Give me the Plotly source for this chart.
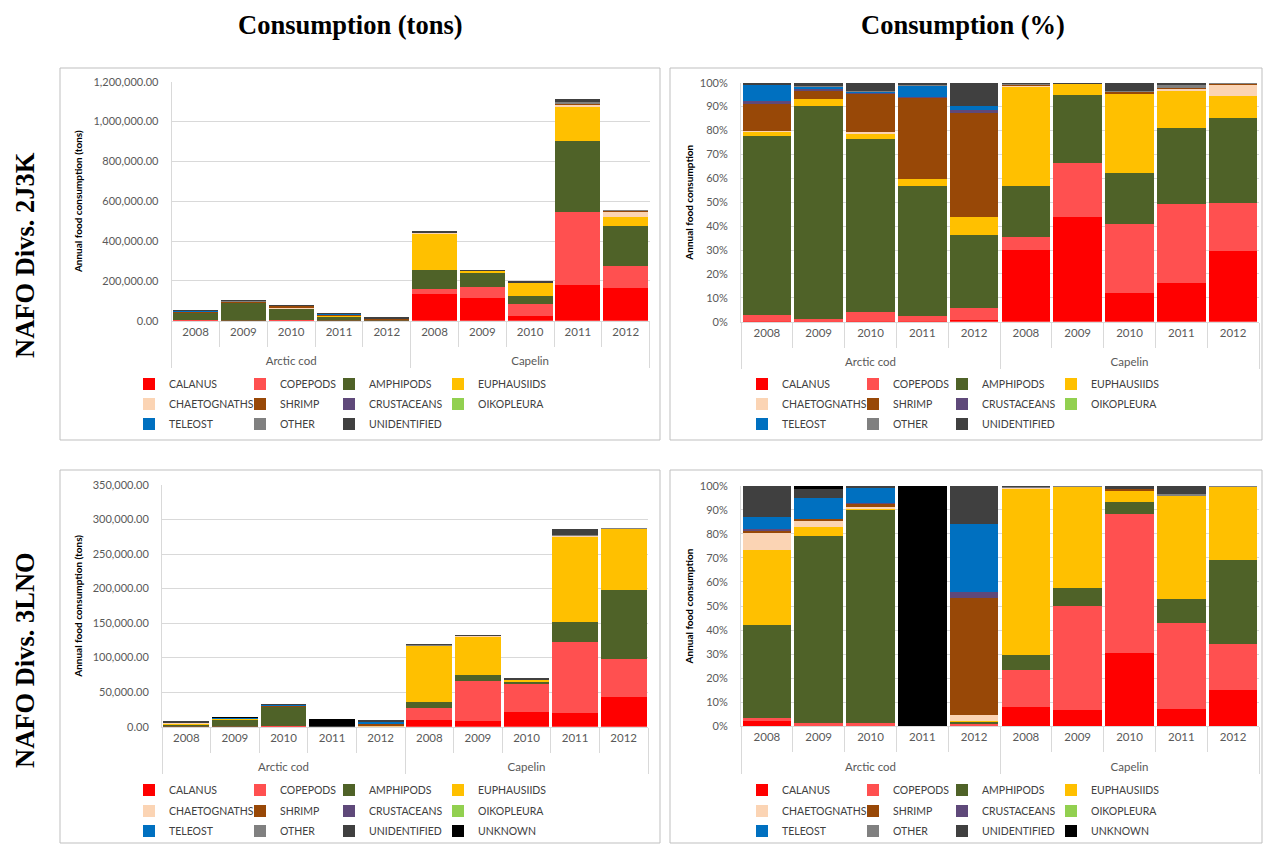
import plotly.graph_objects as go

# ---------------- data ----------------
PREY = ["CALANUS", "COPEPODS", "AMPHIPODS", "EUPHAUSIIDS",
        "CHAETOGNATHS", "SHRIMP", "CRUSTACEANS", "OIKOPLEURA",
        "TELEOST", "OTHER", "UNIDENTIFIED", "UNKNOWN"]
COLORS = ["#FF0000", "#FF5050", "#4F6228", "#FFC000",
          "#FBD4B4", "#984807", "#5F497A", "#92D050",
          "#0070C0", "#808080", "#404040", "#000000"]

SPECIES = ["Arctic cod"] * 5 + ["Capelin"] * 5
YEARS = ["2008", "2009", "2010", "2011", "2012"] * 2

# NAFO Divs. 2J3K - annual consumption (tons); rows follow PREY order
tons_2j3k = [
    [100, 200, 250, 70, 100, 132000, 112000, 24000, 180000, 165000],
    [1500, 800, 3100, 830, 850, 27000, 57000, 58000, 368000, 111000],
    [39000, 91000, 58000, 19600, 4800, 95000, 73000, 43000, 352000, 197000],
    [1000, 3000, 1900, 970, 1200, 185000, 13000, 67000, 176000, 50000],
    [100, 0, 650, 0, 0, 4500, 300, 0, 9000, 27000],
    [6000, 3500, 13000, 12300, 7000, 1200, 0, 1600, 2000, 3000],
    [400, 1000, 250, 100, 130, 0, 0, 0, 0, 0],
    [0, 0, 0, 0, 0, 0, 0, 0, 0, 0],
    [3600, 800, 150, 1700, 290, 0, 0, 0, 0, 0],
    [150, 200, 150, 100, 0, 1800, 0, 400, 17000, 1000],
    [250, 1400, 2800, 260, 1570, 1200, 300, 7000, 9000, 0],
]

# NAFO Divs. 2J3K - consumption (%)
pct_2j3k = [
    [0.2, 0.2, 0.3, 0.2, 0.6, 30.0, 43.9, 12.0, 16.0, 29.6],
    [2.8, 0.8, 3.6, 2.3, 5.3, 5.4, 22.6, 29.0, 33.4, 20.2],
    [74.8, 89.2, 72.5, 54.4, 30.2, 21.5, 28.3, 21.3, 31.5, 35.6],
    [2.0, 3.0, 2.3, 2.7, 7.6, 41.1, 5.0, 33.2, 15.8, 9.0],
    [0.2, 0.0, 0.8, 0.0, 0.0, 1.0, 0.1, 0.0, 0.8, 4.9],
    [11.4, 3.4, 16.3, 34.3, 43.9, 0.3, 0.0, 0.8, 0.2, 0.5],
    [0.8, 1.0, 0.3, 0.3, 0.8, 0.0, 0.0, 0.0, 0.0, 0.0],
    [0.0, 0.0, 0.0, 0.0, 0.0, 0.0, 0.0, 0.0, 0.0, 0.0],
    [7.0, 0.8, 0.2, 4.8, 1.8, 0.0, 0.0, 0.0, 0.0, 0.0],
    [0.3, 0.2, 0.2, 0.3, 0.0, 0.4, 0.0, 0.2, 1.5, 0.2],
    [0.5, 1.4, 3.5, 0.7, 9.8, 0.3, 0.1, 3.5, 0.8, 0.0],
]

# NAFO Divs. 3LNO - annual consumption (tons)
tons_3lno = [
    [180, 40, 65, 0, 30, 9800, 8800, 21200, 20500, 43500],
    [60, 160, 390, 0, 50, 18000, 57000, 40000, 102500, 54000],
    [2790, 10450, 28860, 0, 115, 7300, 9500, 3500, 28500, 100000],
    [2250, 510, 100, 0, 30, 82500, 56000, 3500, 124500, 89000],
    [500, 350, 160, 0, 210, 500, 300, 0, 500, 300],
    [95, 135, 585, 0, 4650, 0, 0, 300, 0, 300],
    [35, 0, 65, 0, 240, 0, 0, 0, 0, 0],
    [0, 0, 0, 0, 0, 0, 0, 0, 0, 0],
    [360, 1175, 2110, 0, 2660, 0, 0, 0, 0, 0],
    [0, 0, 0, 0, 0, 800, 200, 0, 500, 300],
    [930, 470, 165, 0, 1515, 100, 200, 1000, 9500, 0],
    [0, 210, 0, 11000, 0, 0, 0, 0, 0, 0],
]

# NAFO Divs. 3LNO - consumption (%)
pct_3lno = [
    [2.5, 0.3, 0.2, 0.0, 0.3, 8.2, 6.7, 30.5, 7.2, 15.2],
    [0.8, 1.2, 1.2, 0.0, 0.5, 15.2, 43.4, 57.6, 35.7, 19.1],
    [38.7, 77.4, 88.8, 0.0, 1.2, 6.1, 7.2, 5.0, 9.9, 34.8],
    [31.3, 3.8, 0.3, 0.0, 0.3, 69.4, 42.5, 5.1, 43.2, 30.6],
    [7.0, 2.6, 0.5, 0.0, 2.2, 0.4, 0.1, 0.0, 0.2, 0.1],
    [1.3, 1.0, 1.8, 0.0, 49.0, 0.0, 0.0, 0.4, 0.0, 0.1],
    [0.5, 0.0, 0.2, 0.0, 2.5, 0.0, 0.0, 0.0, 0.0, 0.0],
    [0.0, 0.0, 0.0, 0.0, 0.0, 0.0, 0.0, 0.0, 0.0, 0.0],
    [5.0, 8.7, 6.5, 0.0, 28.0, 0.0, 0.0, 0.0, 0.0, 0.0],
    [0.0, 0.0, 0.0, 0.0, 0.0, 0.6, 0.1, 0.0, 0.2, 0.1],
    [12.9, 3.5, 0.5, 0.0, 16.0, 0.1, 0.0, 1.4, 3.6, 0.0],
    [0.0, 1.5, 0.0, 100.0, 0.0, 0.0, 0.0, 0.0, 0.0, 0.0],
]

# ---------------- layout helpers ----------------
W, H = 1265, 844


def px(x):
    return x / W


def py(y):
    return 1 - y / H


SANS = "Lato, 'Open Sans', sans-serif"
SERIF = "'Liberation Serif', 'Times New Roman', serif"
TXT = "#595959"
GRID = "#d9d9d9"
COL_WIDTHS = [66, 44, 64, 95]   # legend entry widths per legend column
LAST_WIDTH = 95                 # last entry of a legend row (avoid clipping)

panels = [
    dict(data=tons_2j3k, box=(60, 68, 660, 440), xdom=(171.7, 649.6), ydom=(320.7, 81.7),
         yrange=[0, 1200000], dtick=200000, fmt=",.2f", suffix="", standoff=8,
         ytitle="Annual food consumption (tons)", legx=129, legy=(384, 404, 424)),
    dict(data=pct_2j3k, box=(670, 68, 1262, 440), xdom=(741, 1259), ydom=(321.7, 82.7),
         yrange=[0, 100], dtick=10, fmt="d", suffix="%", standoff=4,
         ytitle="Annual food consumption", legx=742, legy=(384, 404, 424)),
    dict(data=tons_3lno, box=(60, 470, 660, 843), xdom=(162, 648), ydom=(726.7, 485),
         yrange=[0, 350000], dtick=50000, fmt=",.2f", suffix="", standoff=8,
         ytitle="Annual food consumption (tons)", legx=129, legy=(790, 811, 831)),
    dict(data=pct_3lno, box=(670, 470, 1262, 843), xdom=(741, 1259), ydom=(726.3, 485.7),
         yrange=[0, 100], dtick=10, fmt="d", suffix="%", standoff=4,
         ytitle="Annual food consumption", legx=742, legy=(790, 811, 831)),
]

species_labels = ["<br>" + s for s in SPECIES]

fig = go.Figure()
layout = {}
shapes = []

for p, cfg in enumerate(panels):
    n = p + 1
    xa = "x" if n == 1 else f"x{n}"
    ya = "y" if n == 1 else f"y{n}"
    nser = len(cfg["data"])
    for k, vals in enumerate(cfg["data"]):
        row, col = divmod(k, 4)
        li = p * 3 + row + 1
        lname = "legend" if li == 1 else f"legend{li}"
        last_in_row = (col == 3) or (k == nser - 1)
        fig.add_trace(go.Bar(
            x=[species_labels, YEARS], y=vals, name=PREY[k],
            marker=dict(color=COLORS[k], line=dict(width=0)),
            xaxis=xa, yaxis=ya, legend=lname, showlegend=True,
            legendwidth=LAST_WIDTH if last_in_row else COL_WIDTHS[col],
        ))
    for row in range(3):
        li = p * 3 + row + 1
        lkey = "legend" if li == 1 else f"legend{li}"
        layout[lkey] = dict(
            orientation="h", x=px(cfg["legx"]), xanchor="left",
            y=py(cfg["legy"][row]), yanchor="middle",
            traceorder="normal",
            font=dict(family=SANS, size=10.5, color="#404040"),
            bgcolor="rgba(0,0,0,0)", borderwidth=0,
        )
    xkey = "xaxis" if n == 1 else f"xaxis{n}"
    ykey = "yaxis" if n == 1 else f"yaxis{n}"
    layout[xkey] = dict(
        domain=[px(cfg["xdom"][0]), px(cfg["xdom"][1])], anchor=ya,
        type="multicategory", showline=True, linecolor=GRID, linewidth=1,
        showdividers=True, dividercolor=GRID, dividerwidth=1,
        ticks="outside", tickson="boundaries", ticklen=25, tickcolor=GRID, tickwidth=1,
        tickfont=dict(family=SANS, size=11.5, color=TXT),
        showgrid=False, automargin=False, fixedrange=True,
    )
    layout[ykey] = dict(
        domain=[py(cfg["ydom"][0]), py(cfg["ydom"][1])], anchor=xa,
        range=cfg["yrange"], dtick=cfg["dtick"], tickformat=cfg["fmt"],
        ticksuffix=cfg["suffix"], showgrid=True, gridcolor=GRID, gridwidth=1,
        zeroline=False, showline=True, linecolor=GRID, linewidth=1, ticks="",
        ticklabelstandoff=10,
        tickfont=dict(family=SANS, size=11, color=TXT),
        title=dict(text="<b>" + cfg["ytitle"] + "</b>", standoff=cfg["standoff"],
                   font=dict(family=SANS, size=10, color="#000000")),
        automargin=False, fixedrange=True,
    )
    bx0, by0, bx1, by1 = cfg["box"]
    shapes.append(dict(type="rect", xref="paper", yref="paper",
                       x0=px(bx0), x1=px(bx1), y0=py(by1), y1=py(by0),
                       line=dict(color="#bfbfbf", width=1), layer="below"))

ann_font = dict(family=SERIF, size=26.5, color="#000000")
annotations = [
    dict(text="<b>Consumption (tons)</b>", x=px(350), y=py(25)),
    dict(text="<b>Consumption (%)</b>", x=px(963), y=py(25)),
    dict(text="<b>NAFO Divs. 2J3K</b>", x=px(25), y=py(255), textangle=-90),
    dict(text="<b>NAFO Divs. 3LNO</b>", x=px(25), y=py(660), textangle=-90),
]
for a in annotations:
    a.update(xref="paper", yref="paper", xanchor="center", yanchor="middle",
             showarrow=False, font=ann_font)

fig.update_layout(
    width=W, height=H, margin=dict(l=0, r=0, t=0, b=0, autoexpand=False),
    template="none", paper_bgcolor="white", plot_bgcolor="white",
    barmode="stack", bargap=0.06,
    shapes=shapes, annotations=annotations, **layout,
)

fig.write_html(
    "out.html",
    config={"displayModeBar": False},
    post_script="document.body.style.margin='0';document.body.style.padding='0';",
)
